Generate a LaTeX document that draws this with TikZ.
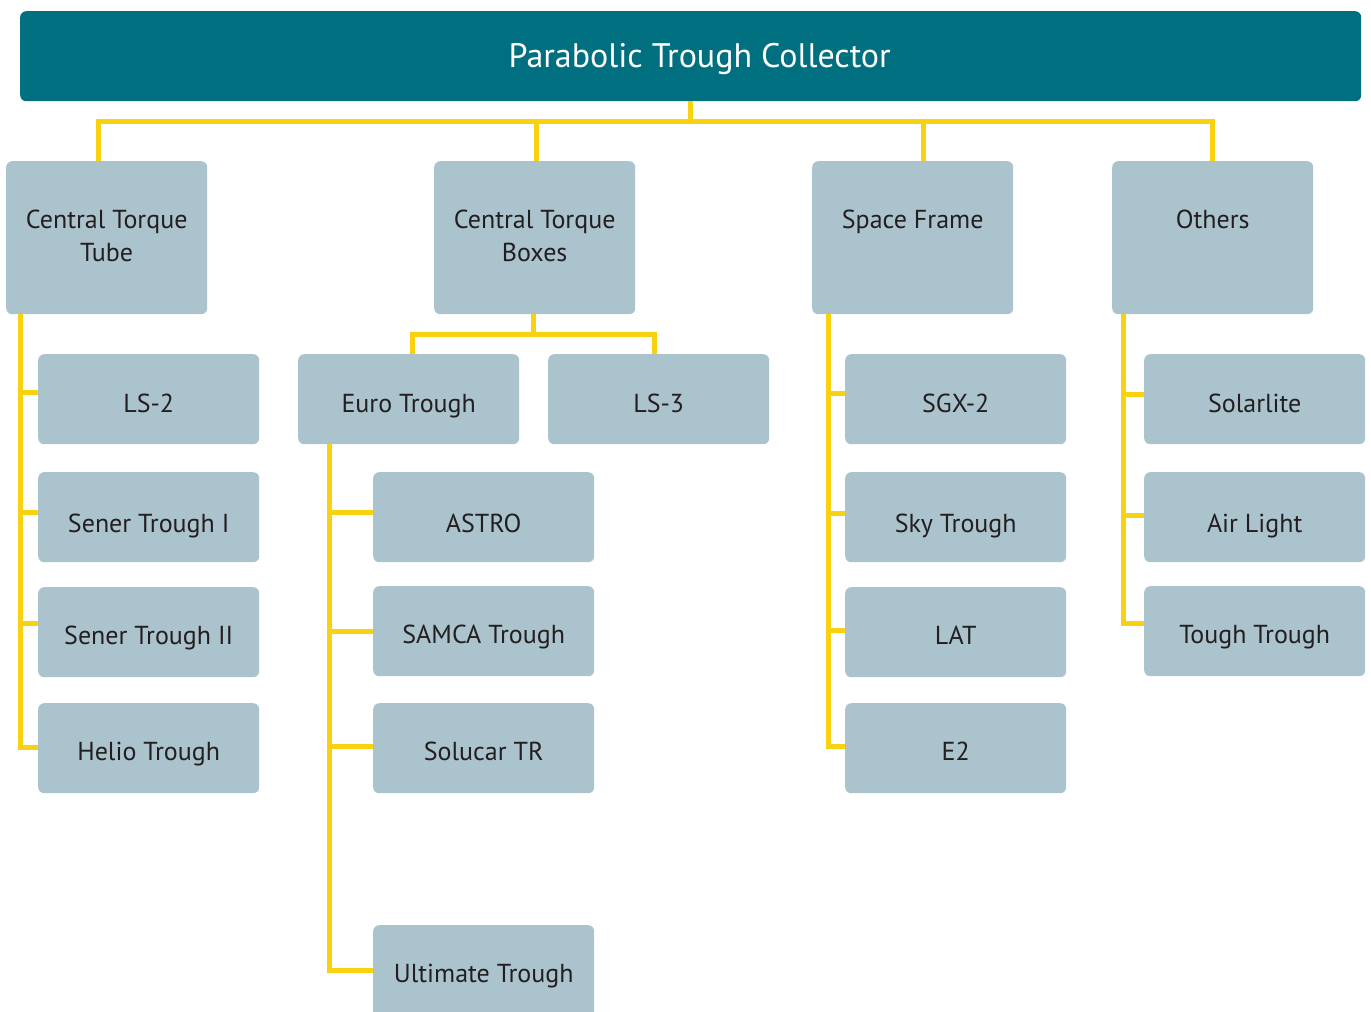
\documentclass[tikz,border=0pt]{standalone}
\usepackage{fontspec}
\setmainfont{PT Sans}
\usetikzlibrary{calc}
\definecolor{hdteal}{HTML}{006F80}
\definecolor{boxblue}{HTML}{ABC3CD}
\definecolor{ylw}{HTML}{F8D210}
\definecolor{txtdark}{HTML}{231F20}
\begin{document}
\begin{tikzpicture}[x=1pt,y=-1pt,
  box/.style={fill=boxblue, rounded corners=6pt, inner sep=0pt, anchor=north west},
  lone/.style={box, minimum width=201pt, minimum height=153pt},
  ltwo/.style={box, minimum width=221pt, minimum height=90pt},
  lbl/.style={text=txtdark, font=\fontsize{26}{33}\selectfont, inner sep=0pt, anchor=base},
  conn/.style={draw=ylw, line width=5pt}]
\useasboundingbox (0,0) rectangle (1371,1012);
\clip (0,0) rectangle (1371,1012);

% root
\node[fill=hdteal, rounded corners=6pt, minimum width=1341pt, minimum height=90pt,
      anchor=north west, inner sep=0pt] (root) at (20,11) {};
\node[font=\fontsize{34}{40}\selectfont, text=white, anchor=base, inner sep=0pt]
      (title) at ($(root.north)+(9,56)$) {Parabolic Trough Collector};

% level 1
\node[lone] (ctt) at (6,161) {};
\node[lone] (ctb) at (434,161) {};
\node[lone] (sf)  at (812,161) {};
\node[lone] (oth) at (1112,161) {};
\node[lbl] (ctt-t) at ($(ctt.north)+(0,67)$) {\begin{tabular}[t]{@{}c@{}}Central Torque\\Tube\end{tabular}};
\node[lbl] (ctb-t) at ($(ctb.north)+(0,67)$) {\begin{tabular}[t]{@{}c@{}}Central Torque\\Boxes\end{tabular}};
\node[lbl] (sf-t)  at ($(sf.north)+(0,67)$) {Space Frame};
\node[lbl] (oth-t) at ($(oth.north)+(0,67)$) {Others};

% level 2 - central torque tube
\node[ltwo] (ls2)   at (38,354) {};
\node[ltwo] (sen1)  at (38,472) {};
\node[ltwo] (sen2)  at (38,587) {};
\node[ltwo] (helio) at (38,703) {};
\node[lbl] (ls2-t)   at ($(ls2.north)+(0,58)$) {LS-2};
\node[lbl] (sen1-t)  at ($(sen1.north)+(0,60)$) {Sener Trough I};
\node[lbl] (sen2-t)  at ($(sen2.north)+(0,57)$) {Sener Trough II};
\node[lbl] (helio-t) at ($(helio.north)+(0,57)$) {Helio Trough};

% level 2 - central torque boxes
\node[ltwo] (euro) at (298,354) {};
\node[ltwo] (ls3)  at (548,354) {};
\node[lbl] (euro-t) at ($(euro.north)+(0,58)$) {Euro Trough};
\node[lbl] (ls3-t)  at ($(ls3.north)+(0,58)$) {LS-3};

% level 3 - euro trough
\node[ltwo] (astro)   at (373,472) {};
\node[ltwo] (samca)   at (373,586) {};
\node[ltwo] (solucar) at (373,703) {};
\node[ltwo, minimum height=100pt] (ult) at (373,925) {};
\node[lbl] (astro-t)   at ($(astro.north)+(0,60)$) {ASTRO};
\node[lbl] (samca-t)   at ($(samca.north)+(0,57)$) {SAMCA Trough};
\node[lbl] (solucar-t) at ($(solucar.north)+(0,57)$) {Solucar TR};
\node[lbl] (ult-t)     at ($(ult.north)+(0,57)$) {Ultimate Trough};

% level 2 - space frame
\node[ltwo] (sgx) at (845,354) {};
\node[ltwo] (sky) at (845,472) {};
\node[ltwo] (lat) at (845,587) {};
\node[ltwo] (e2)  at (845,703) {};
\node[lbl] (sgx-t) at ($(sgx.north)+(0,58)$) {SGX-2};
\node[lbl] (sky-t) at ($(sky.north)+(0,60)$) {Sky Trough};
\node[lbl] (lat-t) at ($(lat.north)+(0,57)$) {LAT};
\node[lbl] (e2-t)  at ($(e2.north)+(0,57)$) {E2};

% level 2 - others
\node[ltwo] (solar) at (1144,354) {};
\node[ltwo] (air)   at (1144,472) {};
\node[ltwo] (tough) at (1144,586) {};
\node[lbl] (solar-t) at ($(solar.north)+(0,58)$) {Solarlite};
\node[lbl] (air-t)   at ($(air.north)+(0,60)$) {Air Light};
\node[lbl] (tough-t) at ($(tough.north)+(0,57)$) {Tough Trough};

% connectors: root to level 1
\coordinate (bus) at ($(root.south)+(0,20)$);
\draw[conn] (root.south) -- (bus) -| ([xshift=92pt]ctt.north west);
\draw[conn] (bus) -| ([xshift=102pt]ctb.north west);
\draw[conn] (bus) -| ([xshift=111pt]sf.north west);
\draw[conn] (bus) -| (oth.north);

% central torque tube column
\coordinate (cttb) at ([xshift=14pt]ctt.south west);
\draw[conn] (cttb) |- (ls2.west |- 0,392);
\draw[conn] (cttb) |- (sen1.west |- 0,512);
\draw[conn] (cttb) |- (sen2.west |- 0,623);
\draw[conn] (cttb) |- (helio.west |- 0,747);

% central torque boxes split
\coordinate (ctbb) at ([xshift=99pt]ctb.south west);
\coordinate (ctbbus) at ($(ctbb)+(0,20)$);
\draw[conn] (ctbb) -- (ctbbus) -| ([xshift=114pt]euro.north west);
\draw[conn] (ctbbus) -| ([xshift=106pt]ls3.north west);

% euro trough column
\coordinate (eub) at ([xshift=31pt]euro.south west);
\draw[conn] (eub) |- (astro.west |- 0,512);
\draw[conn] (eub) |- (samca.west |- 0,631);
\draw[conn] (eub) |- (solucar.west |- 0,746);
\draw[conn] (eub) |- (ult.west |- 0,970);

% space frame column
\coordinate (sfb) at ([xshift=16pt]sf.south west);
\draw[conn] (sfb) |- (sgx.west |- 0,393);
\draw[conn] (sfb) |- (sky.west |- 0,513);
\draw[conn] (sfb) |- (lat.west |- 0,630);
\draw[conn] (sfb) |- (e2.west |- 0,746);

% others column
\coordinate (othb) at ([xshift=11pt]oth.south west);
\draw[conn] (othb) |- (solar.west |- 0,394);
\draw[conn] (othb) |- (air.west |- 0,515);
\draw[conn] (othb) |- (tough.west |- 0,623);
\end{tikzpicture}
\end{document}
